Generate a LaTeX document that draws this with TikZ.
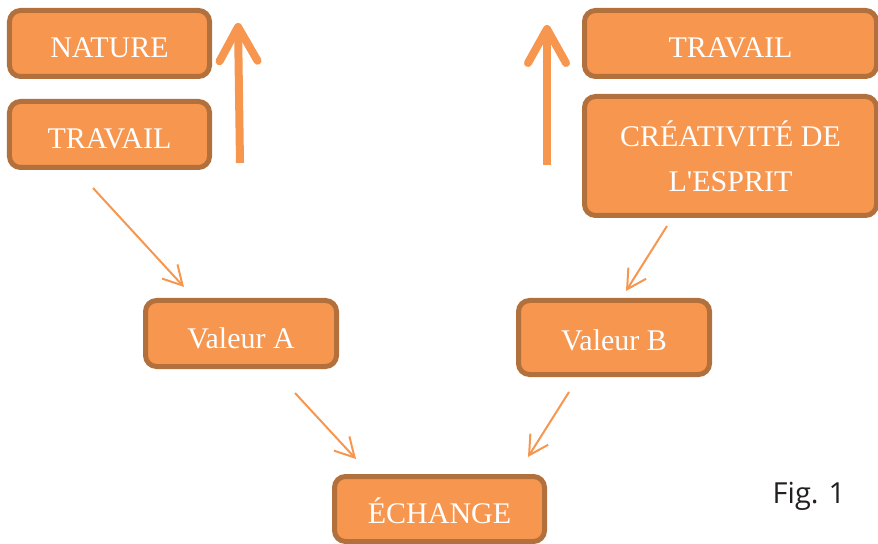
\documentclass[tikz,border=0pt]{standalone}
\usepackage{fontspec}
\setmainfont{Liberation Serif}
\newfontfamily\figfont{Open Sans}
\usetikzlibrary{arrows.meta}
\definecolor{boxfill}{HTML}{F7964F}
\definecolor{boxline}{HTML}{B2703C}
\definecolor{figtext}{HTML}{231F20}

\begin{document}
\begin{tikzpicture}[x=1bp,y=-1bp,
    orangebox/.style={draw=boxline,fill=boxfill,line width=5bp,rounded corners=11bp,
      inner sep=0pt,text=white,font=\fontsize{30bp}{45bp}\selectfont,align=center},
    oneline/.style={orangebox,minimum height=66bp,text height=29bp,text depth=0pt},
    flow/.style={draw=boxfill,line width=2bp,-{Straight Barb[length=19bp,width=21bp]}},
    rise/.style={draw=boxfill,line width=8bp,-{Straight Barb[length=34bp,width=38bp,round]}}]
        \useasboundingbox (0,0) rectangle (878,544);
        % left column
        \node[oneline,minimum width=200bp] (nature) at (109.5,43.5) {NATURE};
        \node[oneline,minimum width=200bp] (travailA) at (109.5,134.5) {TRAVAIL};
        % right column
        \node[oneline,minimum width=292bp] (travailB) at (730.5,43.5) {TRAVAIL};
        \node[orangebox,minimum width=292bp,minimum height=119bp] (esprit) at (730.5,156) {CR\'EATIVIT\'E DE\\L\textquotesingle ESPRIT};
        % values and exchange
        \node[oneline,minimum width=191bp] (valA) at (241,333.5) {Valeur A};
        \node[oneline,minimum width=191bp,minimum height=74bp,text height=26bp] (valB) at (614,337.5) {Valeur B};
        \node[oneline,minimum width=210bp,minimum height=65bp] (echange) at (439.5,509) {\'ECHANGE};
        \node[text=figtext,font=\figfont\fontsize{29bp}{29bp}\selectfont,anchor=base] (fig) at (809,503) {Fig. 1};

        % big arrows
        \coordinate (upA0) at (240,163);
        \coordinate (upA1) at (238,23);
        \coordinate (upB0) at (547,165);
        \coordinate (upB1) at (547,25);
        \draw[rise] (upA0) -- (upA1);
        \draw[rise] (upB0) -- (upB1);

        % thin arrows
        \coordinate (inA0) at (93,188);
        \coordinate (inA1) at (184,287);
        \coordinate (inB0) at (667,226);
        \coordinate (inB1) at (626,291);
        \coordinate (outA0) at (295,393);
        \coordinate (outA1) at (356,459);
        \coordinate (outB0) at (569,392);
        \coordinate (outB1) at (528,457);
        \draw[flow] (inA0) -- (inA1);
        \draw[flow] (inB0) -- (inB1);
        \draw[flow] (outA0) -- (outA1);
        \draw[flow] (outB0) -- (outB1);
      \end{tikzpicture}
\end{document}
